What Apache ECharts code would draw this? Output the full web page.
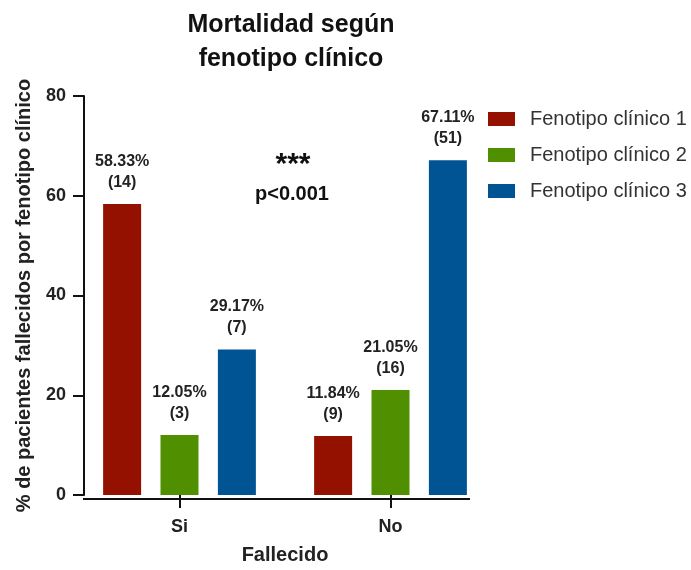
<!DOCTYPE html>
<html>
<head>
<meta charset="utf-8">
<script src="https://cdn.jsdelivr.net/npm/echarts@6/dist/echarts.min.js"></script>
<style>
  html, body { margin: 0; padding: 0; background: #fff; }
  #chart { width: 691px; height: 570px; }
</style>
</head>
<body>
<div id="chart"></div>
<script>
const categories = ['Si', 'No'];
const seriesNames = ['Fenotipo clínico 1', 'Fenotipo clínico 2', 'Fenotipo clínico 3'];
const pct1 = [58.33, 11.84];
const pct2 = [12.05, 21.05];
const pct3 = [29.17, 67.11];
const n1 = [14, 9];
const n2 = [3, 16];
const n3 = [7, 51];
const yTicks = [0, 20, 40, 60, 80];

const colors = ['#941100', '#4F8F00', '#005493'];
const font = 'Liberation Sans, Arial, Helvetica, sans-serif';

const chart = echarts.init(document.getElementById('chart'), null, { renderer: 'canvas' });

function makeSeries(name, values, counts, color) {
  return {
    name: name,
    type: 'bar',
    data: values,
    barWidth: 38,
    barGap: '51%',
    itemStyle: { color: color },
    label: {
      show: true,
      position: 'top',
      distance: 11,
      fontFamily: font,
      fontWeight: 'bold',
      fontSize: 16,
      lineHeight: 21,
      color: '#222',
      formatter: function (p) {
        return p.value.toFixed(2) + '%\n(' + counts[p.dataIndex] + ')';
      }
    }
  };
}

const option = {
  animation: false,
  backgroundColor: '#fff',
  textStyle: { fontFamily: font },
  title: {
    text: 'Mortalidad según\nfenotipo clínico',
    left: 286,
    top: 3,
    textAlign: 'center',
    textStyle: {
      fontFamily: font,
      fontWeight: 'bold',
      fontSize: 25,
      lineHeight: 34,
      color: '#111'
    }
  },
  legend: {
    orient: 'vertical',
    left: 483,
    top: 104,
    itemWidth: 27,
    itemHeight: 14,
    itemGap: 16,
    icon: 'rect',
    textStyle: { fontFamily: font, fontSize: 20, color: '#333', padding: [0, 0, 0, 10] },
    data: seriesNames
  },
  grid: { left: 74, top: 96, width: 422, bottom: 71, containLabel: false },
  xAxis: {
    type: 'category',
    data: categories,
    name: 'Fallecido',
    nameLocation: 'middle',
    nameGap: 50,
    nameTextStyle: { fontFamily: font, fontWeight: 'bold', fontSize: 20, color: '#222' },
    axisLine: { show: false },
    axisTick: { show: true, alignWithLabel: true, length: 13, lineStyle: { color: '#111', width: 2 } },
    axisLabel: { fontFamily: font, fontWeight: 'bold', fontSize: 18, color: '#222', margin: 23 }
  },
  yAxis: {
    type: 'value',
    min: yTicks[0],
    max: yTicks[yTicks.length - 1],
    interval: 20,
    offset: -10,
    name: '% de pacientes fallecidos por fenotipo clínico',
    nameLocation: 'middle',
    nameGap: 50,
    nameRotate: 90,
    nameTextStyle: { fontFamily: font, fontWeight: 'bold', fontSize: 20, color: '#222' },
    axisLine: { show: true, lineStyle: { color: '#111', width: 2 } },
    axisTick: { show: true, length: 11, lineStyle: { color: '#111', width: 2 } },
    axisLabel: { fontFamily: font, fontWeight: 'bold', fontSize: 18, color: '#222', margin: 18 },
    splitLine: { show: false }
  },
  graphic: [
    {
      type: 'line',
      shape: { x1: 83, y1: 499, x2: 470, y2: 499 },
      style: { stroke: '#111', lineWidth: 2 },
      z: 10
    },
    {
      type: 'text',
      x: 293,
      y: 150,
      style: { text: '***', font: 'bold 30px ' + font, fill: '#111', align: 'center', verticalAlign: 'top' }
    },
    {
      type: 'text',
      x: 292,
      y: 194,
      style: { text: 'p<0.001', font: 'bold 20px ' + font, fill: '#111', align: 'center', verticalAlign: 'middle' }
    }
  ],
  series: [
    makeSeries(seriesNames[0], pct1, n1, colors[0]),
    makeSeries(seriesNames[1], pct2, n2, colors[1]),
    makeSeries(seriesNames[2], pct3, n3, colors[2])
  ]
};

chart.setOption(option);
</script>
</body>
</html>
